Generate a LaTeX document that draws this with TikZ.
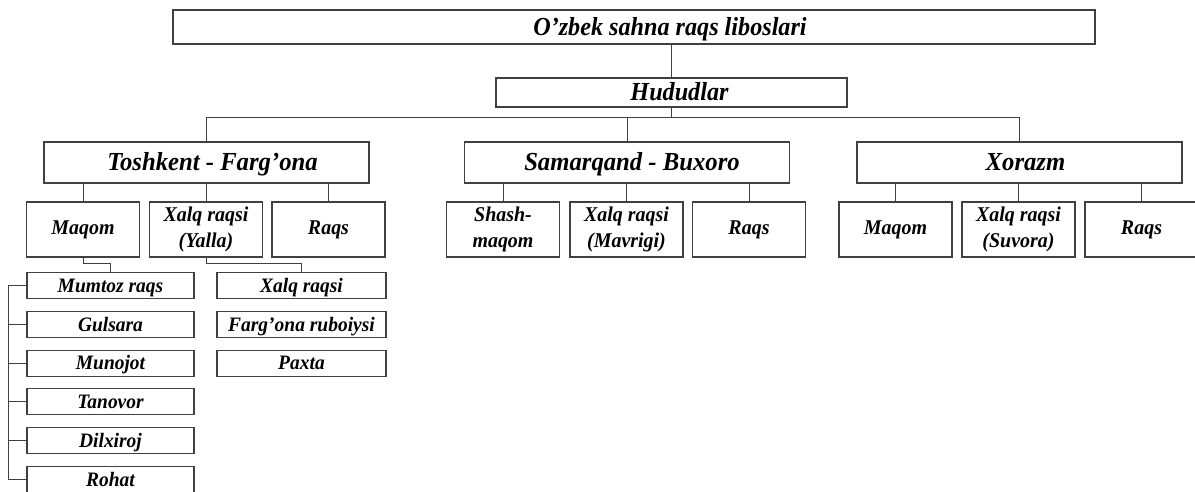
\documentclass[tikz,border=0pt]{standalone}
\usepackage{fontspec}
\newfontfamily\dfont{Liberation Serif}[FakeStretch=0.95]
\newfontfamily\tfont{Liberation Serif}[FakeStretch=0.93]
\begin{document}
\begin{tikzpicture}[x=1pt,y=-1pt,
  box/.style={draw=black!75, line width=1.1pt, inner sep=0pt, align=center, text=black},
  titf/.style={font=\tfont\fontsize{26}{28}\selectfont\bfseries\itshape, text height=17pt, text depth=0pt},
  bigf/.style={font=\dfont\fontsize{26}{28}\selectfont\bfseries\itshape, text height=17pt, text depth=0pt},
  midf/.style={font=\dfont\fontsize{21}{26.5}\selectfont\bfseries\itshape},
  smlf/.style={font=\dfont\fontsize{20.5}{22}\selectfont\bfseries\itshape, text height=13.5pt, text depth=0pt},
  parent/.style={box, bigf, minimum width=325pt, minimum height=41pt},
  child/.style={box, midf, minimum width=113pt, minimum height=55pt},
  item/.style={box, smlf, minimum height=26pt},
  conn/.style={draw=black!75, line width=1pt}]
\useasboundingbox (0,0) rectangle (1195,492);
\clip (0,0) rectangle (1195,492);

% top levels
\node[box, titf, minimum width=922pt, minimum height=34pt] (top) at (634,27) {\hspace*{72pt}O’zbek sahna raqs liboslari};
\node[box, titf, minimum width=351pt, minimum height=29pt] (hud) at (671.5,92.5) {\hspace*{16pt}Hududlar};

% regions
\node[parent] (tf) at (206.5,162.5) {\hspace*{12pt}Toshkent - Farg’ona};
\node[parent] (sb) at (627,162.5) {\hspace*{10pt}Samarqand - Buxoro};
\node[parent] (xo) at (1019.5,162.5) {\hspace*{12pt}Xorazm};

% Toshkent children
\node[child] (tf1) at (83,229.5) {Maqom};
\node[child] (tf2) at (206,229.5) {Xalq raqsi\\(Yalla)};
\node[child] (tf3) at (328.5,229.5) {Raqs};
% Samarqand children
\node[child] (sb1) at (503,229.5) {Shash-\\maqom};
\node[child] (sb2) at (626.5,229.5) {Xalq raqsi\\(Mavrigi)};
\node[child] (sb3) at (749,229.5) {Raqs};
% Xorazm children
\node[child] (xo1) at (895.5,229.5) {Maqom};
\node[child] (xo2) at (1018.5,229.5) {Xalq raqsi\\(Suvora)};
\node[child] (xo3) at (1141.5,229.5) {Raqs};

% Maqom list
\node[item, minimum width=167pt] (m1) at (110.5,285.5) {Mumtoz raqs};
\node[item, minimum width=167pt] (m2) at (110.5,324.3) {Gulsara};
\node[item, minimum width=167pt] (m3) at (110.5,363.1) {Munojot};
\node[item, minimum width=167pt] (m4) at (110.5,401.9) {Tanovor};
\node[item, minimum width=167pt] (m5) at (110.5,440.7) {Dilxiroj};
\node[item, minimum width=167pt] (m6) at (110.5,479.5) {Rohat};

% Yalla list
\node[item, minimum width=169pt] (y1) at (301.5,285.5) {Xalq raqsi};
\node[item, minimum width=169pt] (y2) at (301.5,324.3) {Farg’ona ruboiysi};
\node[item, minimum width=169pt] (y3) at (301.5,363.1) {Paxta};

% connectors
\draw[conn] (hud.north |- top.south) -- (hud.north);
\draw[conn] (hud.south) -- ++(0,10) -| (tf.north);
\draw[conn] (hud.south) -- ++(0,10) -| (xo.north);
\draw[conn] (sb.north |- 0,117) -- (sb.north);

\foreach \p/\c in {tf/tf1,tf/tf2,tf/tf3,sb/sb1,sb/sb2,sb/sb3,xo/xo1,xo/xo2,xo/xo3}
  \draw[conn] (\p.south -| \c.north) -- (\c.north);

\draw[conn] (tf1.south) -- ++(0,6) -| (m1.north);
\draw[conn] (tf2.south) -- ++(0,6) -| (y1.north);

\draw[conn] (m1.west) -- ++(-18,0) |- (m6.west);
\foreach \m in {m2,m3,m4,m5}
  \draw[conn] (\m.west) -- ++(-18,0);
\end{tikzpicture}
\end{document}
